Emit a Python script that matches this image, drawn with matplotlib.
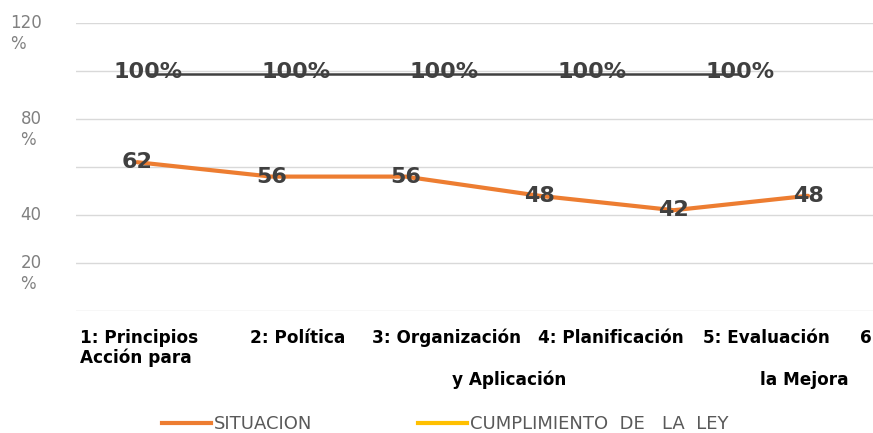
import matplotlib
matplotlib.use("Agg")
import matplotlib.pyplot as plt
import matplotlib.transforms as mtransforms
from matplotlib.lines import Line2D

# data
situacion = [62, 56, 56, 48, 42, 48]
cumplimiento = [100, 100, 100, 100, 100]
series_names = ["SITUACION", "CUMPLIMIENTO  DE   LA  LEY"]
y_ticks = [0, 20, 40, 60, 80, 100, 120]
y_tick_labels = ["", "20\n%", "40", "", "80\n%", "", "120\n%"]
# category label pieces as they appear wrapped under the axis
cat_pieces = ["1: Principios", "Acción para", "2: Política", "3: Organización",
              "y Aplicación", "4: Planificación", "5: Evaluación", "la Mejora", "6"]

# layout (pixel positions of the label pieces: left x, centre y)
piece_pos = [(80, 338), (80, 358), (250, 338), (372, 338), (452, 380),
             (538, 338), (703, 338), (760, 380), (860, 338)]

W, H = 873, 433
ORANGE = "#ED7D31"
YELLOW = "#FFC000"
DARK = "#404040"
GRID = "#d9d9d9"
TICK = "#808080"
LABEL_FONT = ["Liberation Sans Narrow", "DejaVu Sans"]

fig = plt.figure(figsize=(W / 100, H / 100), dpi=100)
ax = fig.add_axes([76 / W, 1 - 311 / H, 1 - 76 / W, (311 - 23) / H])
ax2 = ax.twiny()

ax.set_ylim(0, 120)
ax.set_xlim(-0.4545, 5.484)
ax2.set_xlim(-0.4865, 4.899)

ax.set_yticks(y_ticks)
ax.set_yticklabels(y_tick_labels, fontsize=12, color=TICK, ha="left",
                   va="top", multialignment="left")
ax.tick_params(axis="y", length=0, pad=40)
offset = mtransforms.ScaledTranslation(0, 9 / 100, fig.dpi_scale_trans)
for lbl, txt in zip(ax.get_yticklabels(), y_tick_labels):
    lbl.set_transform(lbl.get_transform() + offset)
    if txt.startswith("120"):
        lbl.set_transform(lbl.get_transform() +
                          mtransforms.ScaledTranslation(-10 / 100, 0, fig.dpi_scale_trans))

ax.set_xticks([])
ax2.set_xticks([])
ax.grid(axis="y", color=GRID, linewidth=1)
ax.set_axisbelow(True)
for a in (ax, ax2):
    for s in a.spines.values():
        s.set_visible(False)

xs = list(range(len(situacion)))
ax.plot(xs, situacion, color=ORANGE, linewidth=3, solid_capstyle="round", zorder=3)
for x, v in zip(xs, situacion):
    ax.text(x, v, f"{v}", ha="center", va="center", fontsize=16,
            fontweight="bold", color=DARK, zorder=5)

xs2 = list(range(len(cumplimiento)))
ax2.set_ylim(0, 120)
ax2.plot(xs2, [c - 1.2 for c in cumplimiento], color=DARK, linewidth=1.8, zorder=3)
for x, v in zip(xs2, cumplimiento):
    ax2.text(x, v - 0.5, f"{v}%", ha="center", va="center", fontsize=16,
             fontweight="bold", color=DARK, zorder=5)

for txt, (px, py) in zip(cat_pieces, piece_pos):
    fig.text(px / W, 1 - py / H, txt, ha="left", va="center", fontsize=12.2,
             fontweight="bold", color="black", family=LABEL_FONT)

handles = [Line2D([], [], color=ORANGE, linewidth=3),
           Line2D([], [], color=YELLOW, linewidth=3)]
fig.legend(handles, series_names, loc="center left",
           bbox_to_anchor=(162 / W, 1 - 424 / H), ncol=2, frameon=False,
           handlelength=2.7, handletextpad=0.15, columnspacing=5.9,
           borderpad=0, borderaxespad=0,
           prop={"size": 13}, labelcolor="#595959")

fig.savefig("out.png", dpi=100)
